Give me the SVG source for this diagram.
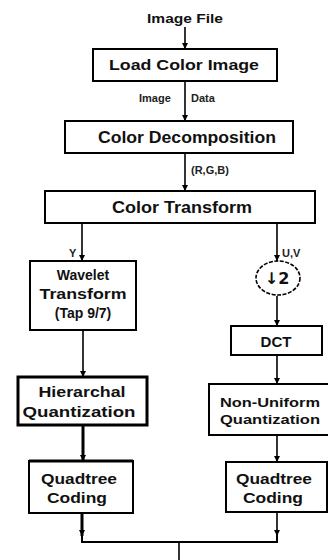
<svg xmlns="http://www.w3.org/2000/svg" width="328" height="560" viewBox="0 0 328 560">
<defs>
<marker id="arr" viewBox="0 0 10 10" refX="10" refY="5" markerWidth="6" markerHeight="6" orient="auto" markerUnits="userSpaceOnUse">
<path d="M0,0 L10,5 L0,10 z" fill="#000"/>
</marker>
<style>
.box{fill:#fff;stroke:#000;stroke-width:2}
.thick{fill:#fff;stroke:#000;stroke-width:3}
.t{font-family:"Liberation Sans",Arial,sans-serif;font-weight:bold;fill:#111;text-anchor:middle}
.lbl{font-family:"Liberation Sans",Arial,sans-serif;font-weight:bold;fill:#222;font-size:11px}
.c{fill:none;stroke:#000;stroke-width:1.6}
.ca{fill:none;stroke:#000;stroke-width:1.6;marker-end:url(#arr)}
</style>
</defs>
<rect width="328" height="560" fill="#fff"/>
<g id="connectors">
<line class="ca" x1="185" y1="27" x2="185" y2="49"/>
<line class="ca" x1="185" y1="81" x2="185" y2="121"/>
<line class="ca" x1="185" y1="153" x2="185" y2="191"/>
<line class="ca" x1="82" y1="223" x2="82" y2="261"/>
<line class="ca" x1="277" y1="223" x2="277" y2="261"/>
<line class="ca" x1="277" y1="296" x2="277" y2="326"/>
<line class="ca" x1="83" y1="330" x2="83" y2="377"/>
<line class="ca" x1="277" y1="355" x2="277" y2="384"/>
<line class="ca" x1="83" y1="425" x2="83" y2="461" style="stroke-width:3"/>
<line class="ca" x1="277" y1="435" x2="277" y2="462"/>
<line class="ca" x1="82" y1="513" x2="82" y2="536" style="stroke-width:3"/>
<line class="ca" x1="277" y1="512" x2="277" y2="536"/>
<polyline class="c" points="82,533 82,542 277,542 277,533" style="stroke-width:2"/>
<line class="c" x1="179" y1="542" x2="179" y2="560"/>
</g>
<g id="image-file">
<text class="t" x="185" y="23" font-size="12" textLength="76" lengthAdjust="spacingAndGlyphs">Image File</text>
</g>
<g id="load-color-image">
<rect class="box" x="93" y="49" width="184" height="32"/>
<text class="t" x="184" y="70" font-size="15" textLength="150" lengthAdjust="spacingAndGlyphs">Load Color Image</text>
</g>
<g id="image-data-label">
<text class="lbl" x="139" y="102">Image</text>
<text class="lbl" x="191" y="102">Data</text>
</g>
<g id="color-decomposition">
<rect class="box" x="65" y="121" width="228" height="32"/>
<text class="t" x="187" y="143" font-size="16" textLength="178" lengthAdjust="spacingAndGlyphs">Color Decomposition</text>
</g>
<g id="rgb-label">
<text class="lbl" x="191" y="174">(R,G,B)</text>
</g>
<g id="color-transform">
<rect class="box" x="45" y="191" width="270" height="32"/>
<text class="t" x="182" y="213" font-size="16" textLength="140" lengthAdjust="spacingAndGlyphs">Color Transform</text>
</g>
<g id="y-label">
<text class="lbl" x="69" y="257">Y</text>
</g>
<g id="uv-label">
<text class="lbl" x="282" y="257">U,V</text>
</g>
<g id="wavelet-transform">
<rect class="box" x="30" y="261" width="106" height="69"/>
<text class="t" x="83" y="280" font-size="14">Wavelet</text>
<text class="t" x="83" y="299" font-size="14" textLength="87" lengthAdjust="spacingAndGlyphs">Transform</text>
<text class="t" x="83" y="318" font-size="14">(Tap 9/7)</text>
</g>
<g id="downsample">
<ellipse cx="278" cy="278" rx="22" ry="17" fill="#fff" stroke="#000" stroke-width="1.6" stroke-dasharray="4 1.5"/>
<text class="t" x="277" y="284" font-size="16" style="font-family:'DejaVu Sans',sans-serif">↓2</text>
</g>
<g id="dct">
<rect class="box" x="231" y="326" width="91" height="29"/>
<text class="t" x="276" y="347" font-size="15">DCT</text>
</g>
<g id="hierarchal-quantization">
<rect class="thick" x="18" y="377" width="129" height="48"/>
<text class="t" x="82" y="397" font-size="14" textLength="87" lengthAdjust="spacingAndGlyphs">Hierarchal</text>
<text class="t" x="79" y="417" font-size="14" textLength="113" lengthAdjust="spacingAndGlyphs">Quantization</text>
</g>
<g id="non-uniform-quantization">
<rect class="box" x="209" y="384" width="140" height="51"/>
<text class="t" x="270" y="407" font-size="12" textLength="100" lengthAdjust="spacingAndGlyphs">Non-Uniform</text>
<text class="t" x="270" y="424" font-size="12" textLength="100" lengthAdjust="spacingAndGlyphs">Quantization</text>
</g>
<g id="quadtree-coding-left">
<rect class="box" x="29" y="461" width="104" height="52"/>
<line x1="29" y1="461" x2="133" y2="461" stroke="#000" stroke-width="3"/>
<text class="t" x="79" y="484" font-size="14" textLength="76" lengthAdjust="spacingAndGlyphs">Quadtree</text>
<text class="t" x="77" y="503" font-size="14" textLength="60" lengthAdjust="spacingAndGlyphs">Coding</text>
</g>
<g id="quadtree-coding-right">
<rect class="box" x="226" y="462" width="101" height="50"/>
<text class="t" x="274" y="484" font-size="14" textLength="76" lengthAdjust="spacingAndGlyphs">Quadtree</text>
<text class="t" x="273" y="503" font-size="14" textLength="60" lengthAdjust="spacingAndGlyphs">Coding</text>
</g>
</svg>
